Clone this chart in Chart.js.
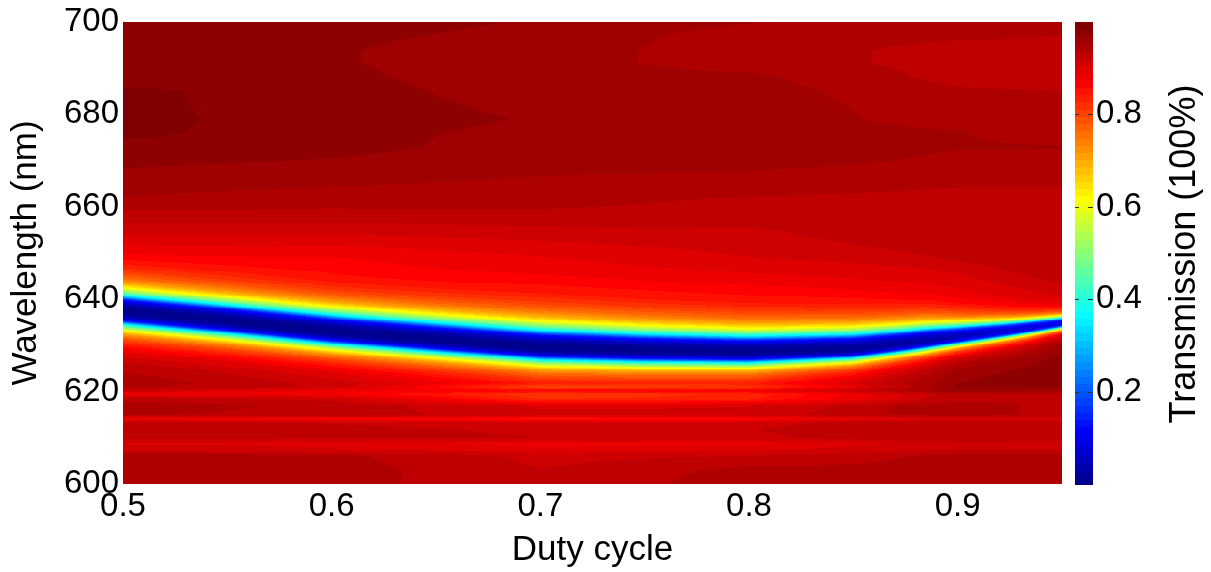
<!DOCTYPE html>
<html><head><meta charset="utf-8">
<script src="https://cdn.jsdelivr.net/npm/chart.js@4.4.1/dist/chart.umd.min.js"></script>
<style>html,body{margin:0;padding:0;background:#fff;overflow:hidden}#wrap{width:1211px;height:572px}</style>
</head><body><div id="wrap"><canvas id="c" width="1211" height="572"></canvas></div>
<script>
// ---- axis ticks ----
const xTicks = [0.5, 0.6, 0.7, 0.8, 0.9];
const yTicks = [600, 620, 640, 660, 680, 700];
const cbTicks = [0.2, 0.4, 0.6, 0.8];

// ---- resonance dip ----
const dipDuty   = [0.5, 0.55, 0.6, 0.65, 0.7, 0.75, 0.8, 0.85, 0.875, 0.9, 0.925, 0.95];
const dipCenter = [637.4, 635.3, 633.0, 631.2, 629.5, 628.9, 628.6, 629.2, 630.4, 631.8, 633.2, 634.8];
const widthDuty  = [0.5, 0.6, 0.7, 0.8, 0.85, 0.885, 0.9, 0.933, 0.95];
const widthUpper = [5.0, 5.4, 5.6, 5.0, 4.8, 4.1, 3.5, 2.3, 1.8];
const widthLower = [4.3, 4.1, 3.9, 3.5, 3.0, 2.5, 2.2, 1.8, 1.4];
const dipFloor   = [0.01, 0.01, 0.01, 0.015, 0.02, 0.04, 0.06, 0.09, 0.11];
const profileU = [0, 0.2, 0.35, 0.5, 0.65, 0.8, 1.0, 1.2, 1.45, 1.75, 2.1, 2.6, 3.2, 4.0, 5.0];
const profileT = [0.01, 0.03, 0.08, 0.17, 0.37, 0.52, 0.67, 0.77, 0.845, 0.9, 0.94, 0.965, 0.98, 0.99, 1.0];

// ---- background transmission ----
const bgDuty = [0.5, 0.6, 0.7, 0.8, 0.9, 0.95];
const bgWavelength = [600, 603, 606, 607.5, 608.7, 610, 612, 613.2, 614.1, 615, 617, 618.4, 619.4, 620.3, 621, 621.8, 623, 625, 627, 630, 634, 638, 642, 646, 649, 652, 655, 658, 661, 664, 667, 670, 673, 676, 679, 682, 685, 688, 691, 694, 697, 700];
const bg050 = [0.958,0.958,0.955,0.925,0.912,0.935,0.94,0.935,0.89,0.945,0.958,0.945,0.90,0.94,0.96,0.968,0.968,0.968,0.962,0.955,0.95,0.945,0.93,0.915,0.918,0.925,0.935,0.948,0.958,0.965,0.972,0.982,0.988,0.996,0.996,0.996,0.996,0.985,0.983,0.983,0.984,0.987];
const bg060 = [0.953,0.953,0.95,0.915,0.91,0.93,0.935,0.93,0.885,0.945,0.95,0.94,0.90,0.91,0.95,0.953,0.953,0.953,0.95,0.945,0.94,0.935,0.925,0.91,0.905,0.915,0.93,0.94,0.95,0.96,0.968,0.975,0.983,0.983,0.986,0.984,0.983,0.98,0.978,0.978,0.98,0.984];
const bg070 = [0.93,0.93,0.925,0.905,0.89,0.93,0.93,0.925,0.875,0.93,0.93,0.86,0.85,0.915,0.855,0.915,0.915,0.915,0.915,0.915,0.915,0.91,0.905,0.91,0.912,0.92,0.93,0.94,0.95,0.955,0.962,0.968,0.968,0.971,0.975,0.972,0.969,0.968,0.968,0.968,0.972,0.975];
const bg080 = [0.955,0.95,0.93,0.91,0.895,0.925,0.93,0.925,0.88,0.93,0.93,0.87,0.87,0.93,0.87,0.915,0.915,0.92,0.92,0.92,0.915,0.905,0.905,0.915,0.922,0.924,0.928,0.94,0.942,0.95,0.958,0.968,0.968,0.968,0.968,0.968,0.968,0.965,0.953,0.953,0.953,0.962];
const bg090 = [0.95,0.95,0.95,0.93,0.924,0.945,0.945,0.945,0.915,0.953,0.953,0.94,0.94,0.975,0.98,0.98,0.98,0.98,0.975,0.95,0.93,0.92,0.92,0.924,0.935,0.94,0.94,0.94,0.94,0.945,0.953,0.958,0.962,0.962,0.955,0.953,0.948,0.94,0.94,0.94,0.948,0.953];
const bg095 = [0.953,0.953,0.953,0.93,0.924,0.94,0.94,0.94,0.92,0.94,0.94,0.945,0.945,0.97,0.98,0.98,0.98,0.98,0.98,0.98,0.96,0.93,0.93,0.935,0.94,0.94,0.94,0.94,0.94,0.945,0.953,0.953,0.962,0.953,0.953,0.953,0.945,0.94,0.94,0.94,0.945,0.953];
const bgColumns = [bg050, bg060, bg070, bg080, bg090, bg095];

// ---- helpers ----
function interp(xs, ys, x) {
  if (x <= xs[0]) return ys[0];
  const n = xs.length;
  if (x >= xs[n - 1]) return ys[n - 1];
  let i = 1; while (xs[i] < x) i++;
  const t = (x - xs[i - 1]) / (xs[i] - xs[i - 1]);
  return ys[i - 1] + t * (ys[i] - ys[i - 1]);
}
function bgAt(d, wl) {
  const colVals = bgColumns.map(col => interp(bgWavelength, col, wl));
  return interp(bgDuty, colVals, d);
}
function transmission(d, wl) {
  const c = interp(dipDuty, dipCenter, d);
  const off = wl - c;
  const w = off > 0 ? interp(widthDuty, widthUpper, d) : interp(widthDuty, widthLower, d);
  const p = interp(profileU, profileT, Math.abs(off) / w);
  const m = interp(widthDuty, dipFloor, d);
  const dip = m + (1 - m) * (p - profileT[0]) / (1 - profileT[0]);
  return bgAt(d, wl) * dip;
}
const NLEV = 64;
const jetColors = [];
for (let k = 0; k < NLEV; k++) {
  const v = (k + 1) / NLEV;
  const cl = a => Math.max(0, Math.min(1, a));
  const r = cl(1.5 - Math.abs(4 * v - 3)), g = cl(1.5 - Math.abs(4 * v - 2)), b = cl(1.5 - Math.abs(4 * v - 1));
  jetColors.push(`rgb(${Math.round(r * 255)},${Math.round(g * 255)},${Math.round(b * 255)})`);
}
function level(val) {
  return Math.max(0, Math.min(NLEV - 1, Math.round(val * NLEV) - 1));
}

const FONT = 'Liberation Sans, Arial, sans-serif';
const tickFont = {family: FONT, size: 33};
const titleFont = {family: FONT, size: 35};

const heatmap = {
  id: 'heatmap',
  beforeDatasetsDraw(chart) {
    const {ctx} = chart;
    const xs = chart.scales.x, ys = chart.scales.y;
    const nCols = 470, nRows = 500;
    const d0 = xs.min, d1 = xs.max, w0 = ys.min, w1 = ys.max;
    ctx.save();
    for (let i = 0; i < nCols; i++) {
      const da = d0 + (d1 - d0) * i / nCols, db = d0 + (d1 - d0) * (i + 1) / nCols;
      const dm = (da + db) / 2;
      const xa = Math.round(xs.getPixelForValue(da)), xb = Math.round(xs.getPixelForValue(db));
      let runStart = 0, runLev = -1;
      for (let j = 0; j <= nRows; j++) {
        let lev = -2;
        if (j < nRows) {
          const wm = w0 + (w1 - w0) * (j + 0.5) / nRows;
          lev = level(transmission(dm, wm));
        }
        if (lev !== runLev) {
          if (runLev >= 0) {
            const ya = Math.round(ys.getPixelForValue(w0 + (w1 - w0) * runStart / nRows));
            const yb = Math.round(ys.getPixelForValue(w0 + (w1 - w0) * j / nRows));
            ctx.fillStyle = jetColors[runLev];
            ctx.fillRect(xa, yb, xb - xa, ya - yb);
          }
          runLev = lev; runStart = j;
        }
      }
    }
    ctx.restore();
  }
};

const colorbar = {
  id: 'colorbar',
  afterDraw(chart) {
    const {ctx} = chart;
    const cb = chart.scales.cb;
    const x0 = cb.left + 13, x1 = cb.left + 31;
    ctx.save();
    for (let k = 0; k < NLEV; k++) {
      const ya = Math.round(cb.getPixelForValue(k / NLEV));
      const yb = Math.round(cb.getPixelForValue((k + 1) / NLEV));
      ctx.fillStyle = jetColors[k];
      ctx.fillRect(x0, yb, x1 - x0, ya - yb + 1);
    }
    ctx.strokeStyle = '#333';
    ctx.lineWidth = 1;
    cbTicks.forEach(t => {
      const y = Math.round(cb.getPixelForValue(t)) + 0.5;
      ctx.beginPath();
      ctx.moveTo(x0, y); ctx.lineTo(x0 + 4, y);
      ctx.moveTo(x1 - 5, y); ctx.lineTo(x1, y);
      ctx.stroke();
    });
    ctx.fillStyle = '#000';
    ctx.font = `36px ${FONT}`;
    ctx.textAlign = 'center';
    ctx.textBaseline = 'middle';
    ctx.translate(cb.right - 26, (cb.top + cb.bottom) / 2 + 1);
    ctx.rotate(-Math.PI / 2);
    ctx.fillText('Transmission (100%)', 0, 0);
    ctx.restore();
  }
};

function noPad(a) { a.paddingTop = 0; a.paddingBottom = 0; a.paddingLeft = 0; a.paddingRight = 0; }

new Chart(document.getElementById('c'), {
  type: 'scatter',
  data: {datasets: []},
  options: {
    responsive: false,
    animation: false,
    devicePixelRatio: 1,
    layout: {padding: {left: 0, right: 0, top: 22, bottom: 0}},
    plugins: {legend: {display: false}, tooltip: {enabled: false}},
    scales: {
      x: {
        type: 'linear', position: 'bottom', min: 0.5, max: 0.95,
        grid: {display: false, drawTicks: false}, border: {display: false},
        afterBuildTicks: a => { a.ticks = xTicks.map(v => ({value: v})); },
        afterFit: a => { a.height = 88; noPad(a); },
        ticks: {font: tickFont, color: '#000', padding: 3, autoSkip: false, maxRotation: 0,
                callback: v => Number(v).toFixed(1)},
        title: {display: true, text: 'Duty cycle', font: titleFont, color: '#000', padding: {top: 0, bottom: 1}}
      },
      y: {
        type: 'linear', position: 'left', min: 600, max: 700,
        grid: {display: false, drawTicks: false}, border: {display: false},
        afterBuildTicks: a => { a.ticks = yTicks.map(v => ({value: v})); },
        afterFit: a => { a.width = 123; noPad(a); },
        ticks: {font: tickFont, color: '#000', padding: 4, autoSkip: false,
                callback: v => String(v)},
        title: {display: true, text: 'Wavelength (nm)', font: titleFont, color: '#000', padding: {top: 5, bottom: 0}}
      },
      cb: {
        type: 'linear', position: 'right', min: 0, max: 1,
        grid: {display: false, drawTicks: false}, border: {display: false},
        afterBuildTicks: a => { a.ticks = cbTicks.map(v => ({value: v})); },
        afterFit: a => { a.width = 149; noPad(a); },
        ticks: {font: tickFont, color: '#000', padding: 34, autoSkip: false,
                callback: v => Number(v).toFixed(1)}
      }
    }
  },
  plugins: [heatmap, colorbar]
});
</script>
</body></html>
